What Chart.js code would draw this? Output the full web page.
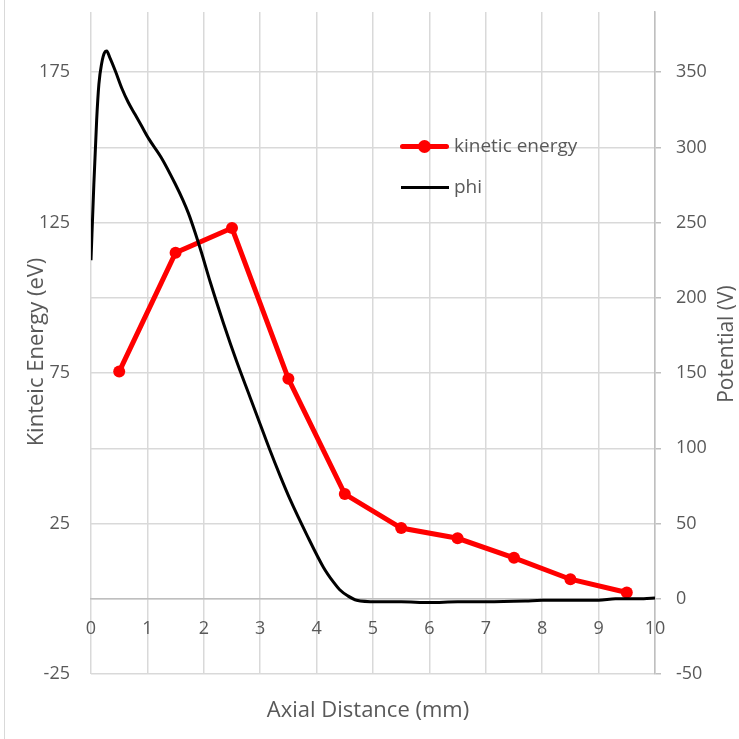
<!DOCTYPE html>
<html>
<head>
<meta charset="utf-8">
<script src="https://cdn.jsdelivr.net/npm/chart.js@4/dist/chart.umd.min.js"></script>
<style>
  html, body { margin: 0; padding: 0; background: #fff; }
  #wrap { position: relative; width: 739px; height: 739px; font-family: "Open Sans", sans-serif; }
  #frame { position: absolute; left: 4px; top: 0; width: 1px; height: 739px; background: #d9d9d9; }
  .leg-text { position: absolute; font-size: 19px; color: #595959; line-height: 20px; }
  .leg-line { position: absolute; }
</style>
</head>
<body>
<div id="wrap">
  <canvas id="chart" width="739" height="739"></canvas>
  <div id="frame"></div>
  <!-- legend -->
  <div class="leg-line" style="left:400px;top:144px;width:49px;height:5px;background:#ff0000;border-radius:3px;"></div>
  <div class="leg-line" style="left:418px;top:140px;width:13px;height:13px;background:#ff0000;border-radius:50%;"></div>
  <div class="leg-text" style="left:454px;top:135px;">kinetic energy</div>
  <div class="leg-line" style="left:401px;top:186px;width:48px;height:3px;background:#000;"></div>
  <div class="leg-text" style="left:454px;top:176px;">phi</div>
</div>
<script>
// Kinetic energy (left axis, eV)
const keX = [0.5, 1.5, 2.5, 3.5, 4.5, 5.5, 6.5, 7.5, 8.5, 9.5];
const keY = [75.5, 115, 123.2, 73.1, 34.8, 23.5, 20.1, 13.6, 6.5, 2.1];

// Potential phi (right axis, V)
const phiX = [0, 0.05, 0.1, 0.14, 0.19, 0.24, 0.28, 0.33, 0.43, 0.55, 0.66, 0.78, 0.9, 1.02, 1.25, 1.49, 1.63, 1.73, 1.85, 1.96,
              2.11, 2.35, 2.58, 2.82, 3.0, 3.17, 3.35, 3.53, 3.82, 4.12, 4.3, 4.41, 4.55, 4.71, 5.06, 5.5, 6.0, 6.5, 7.0, 7.7, 8.0, 9.0, 9.3, 9.8, 10];
const phiY = [225, 275, 318, 342, 356, 363, 364, 360, 351, 339, 330, 322, 314, 306, 293, 276, 265, 256, 243, 230,
              211, 183, 158, 134, 116, 99, 82, 66, 43, 21, 11, 6, 2, -1, -2, -2, -2.5, -2, -2, -1.5, -1, -1, 0, 0, 0.5];

// tick labels
const xTicks = [0, 1, 2, 3, 4, 5, 6, 7, 8, 9, 10];
const leftTicks = [-25, 25, 75, 125, 175];
const rightTicks = [-50, 0, 50, 100, 150, 200, 250, 300, 350];

const textColor = '#595959';
const gridColor = '#d9d9d9';
const axisColor = '#bfbfbf';
const tickFont = {family: 'Open Sans', size: 18};

// axis titles drawn rotated the same way as the original
const axisTitles = {
    id: 'axisTitles',
    afterDraw(chart) {
        const ctx = chart.ctx;
        const a = chart.chartArea;
        ctx.save();
        ctx.fillStyle = textColor;
        ctx.font = '22px "Open Sans"';
        ctx.textAlign = 'center';
        ctx.textBaseline = 'middle';
        ctx.fillText('Axial Distance (mm)', (a.left + a.right) / 2 - 5, a.bottom + 37);
        ctx.translate(37, (a.top + a.bottom) / 2 + 9);
        ctx.rotate(-Math.PI / 2);
        ctx.fillText('Kinteic Energy (eV)', 0, 0);
        ctx.restore();
        ctx.save();
        ctx.fillStyle = textColor;
        ctx.font = '21px "Open Sans"';
        ctx.textAlign = 'center';
        ctx.textBaseline = 'middle';
        ctx.translate(727, (a.top + a.bottom) / 2 + 1);
        ctx.rotate(-Math.PI / 2);
        ctx.fillText('Potential (V)', 0, 0);
        ctx.restore();
    }
};

new Chart(document.getElementById('chart').getContext('2d'), {
    type: 'line',
    data: {
        datasets: [{
            label: 'kinetic energy',
            data: keX.map((x, i) => ({x, y: keY[i]})),
            yAxisID: 'y',
            borderColor: '#ff0000',
            backgroundColor: '#ff0000',
            borderWidth: 5,
            pointRadius: 6,
            pointBorderWidth: 0,
            pointBackgroundColor: '#ff0000',
            order: 1
        }, {
            label: 'phi',
            data: phiX.map((x, i) => ({x, y: phiY[i]})),
            yAxisID: 'y1',
            borderColor: '#000000',
            borderWidth: 3,
            pointRadius: 0,
            cubicInterpolationMode: 'monotone',
            order: 0
        }]
    },
    options: {
        responsive: false,
        animation: false,
        layout: {padding: {top: 12, bottom: 65, left: 0, right: 0}},
        plugins: {legend: {display: false}, tooltip: {enabled: false}},
        scales: {
            x: {
                type: 'linear',
                min: 0, max: 10,
                position: {y: 0},
                afterBuildTicks: s => { s.ticks = xTicks.map(v => ({value: v})); },
                ticks: {color: textColor, font: tickFont, padding: 19},
                grid: {color: gridColor, lineWidth: 1.5, drawTicks: false},
                border: {color: axisColor, width: 1.5}
            },
            y: {
                position: 'left',
                min: -25, max: 195,
                afterBuildTicks: s => { s.ticks = leftTicks.map(v => ({value: v})); },
                afterFit: s => { s.width = 91; s.paddingTop = 0; s.paddingBottom = 0; },
                ticks: {color: textColor, font: tickFont, padding: 21},
                grid: {display: false, drawTicks: false},
                border: {display: false}
            },
            y1: {
                position: 'right',
                min: -50, max: 390,
                afterBuildTicks: s => { s.ticks = rightTicks.map(v => ({value: v})); },
                afterFit: s => { s.width = 84; s.paddingTop = 0; s.paddingBottom = 0; },
                ticks: {color: textColor, font: tickFont, padding: 15},
                grid: {color: gridColor, lineWidth: 1.5, tickLength: 6, tickColor: axisColor},
                border: {color: axisColor, width: 1.5}
            }
        }
    },
    plugins: [axisTitles]
});
</script>
</body>
</html>
